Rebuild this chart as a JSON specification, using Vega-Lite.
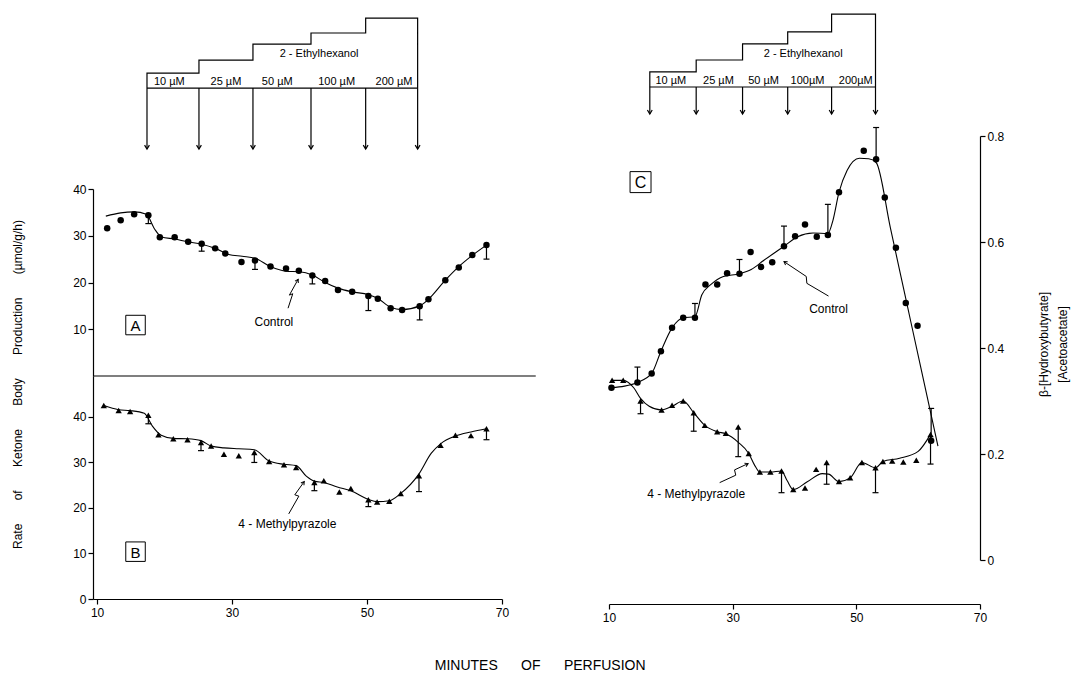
{
  "$schema": "https://vega.github.io/schema/vega-lite/v6.json",
  "background": "white",
  "padding": {"left": 11, "top": 5, "right": 5, "bottom": 5},
  "config": {
    "view": {"stroke": "transparent"},
    "font": "Liberation Sans",
    "axis": {"grid": false, "labelFlush": false, "domainColor": "black", "domainWidth": 1.2, "tickColor": "black", "tickWidth": 1.2, "tickSize": 5, "labelColor": "black", "labelFont": "Liberation Sans", "labelFontSize": 12, "labelPadding": 2, "titleFont": "Liberation Sans", "titleFontSize": 12, "titleFontWeight": "normal", "titleColor": "black"},
    "text": {"font": "Liberation Sans", "fontSize": 12, "color": "black"},
    "title": {"font": "Liberation Sans", "fontSize": 14, "fontWeight": "normal", "color": "black"}
  },
  "title": {"text": "MINUTES\u00a0\u00a0\u00a0\u00a0\u00a0\u00a0OF\u00a0\u00a0\u00a0\u00a0\u00a0\u00a0PERFUSION", "orient": "bottom", "anchor": "middle", "offset": 35},
  "datasets": {
    "stairL": [{"i":0,"x":17.4,"y":0},{"i":1,"x":17.4,"y":1.07},{"i":2,"x":25.1,"y":1.07},{"i":3,"x":25.1,"y":2.0},{"i":4,"x":33.1,"y":2.0},{"i":5,"x":33.1,"y":3.14},{"i":6,"x":41.7,"y":3.14},{"i":7,"x":41.7,"y":3.93},{"i":8,"x":49.8,"y":3.93},{"i":9,"x":49.8,"y":5.0},{"i":10,"x":57.5,"y":5.0},{"i":11,"x":57.5,"y":0}],
    "stairLbase": [{"x":17.4,"x2":57.5,"y":0}],
    "arrowsL": [{"x":17.4,"y":0,"tip":-4.36},{"x":25.1,"y":0,"tip":-4.36},{"x":33.1,"y":0,"tip":-4.36},{"x":41.7,"y":0,"tip":-4.36},{"x":49.8,"y":0,"tip":-4.36},{"x":57.5,"y":0,"tip":-4.36}],
    "stairLlab": [{"x":20.7,"y":0.45,"t":"10 µM"},{"x":29.1,"y":0.45,"t":"25 µM"},{"x":36.7,"y":0.45,"t":"50 µM"},{"x":45.5,"y":0.45,"t":"100 µM"},{"x":54.0,"y":0.45,"t":"200 µM"},{"x":42.9,"y":2.43,"t":"2 - Ethylhexanol"}],
    "stairR": [{"i":0,"x":16.6,"y":0},{"i":1,"x":16.6,"y":1.03},{"i":2,"x":24.1,"y":1.03},{"i":3,"x":24.1,"y":1.85},{"i":4,"x":31.6,"y":1.85},{"i":5,"x":31.6,"y":2.95},{"i":6,"x":38.9,"y":2.95},{"i":7,"x":38.9,"y":3.77},{"i":8,"x":46.0,"y":3.77},{"i":9,"x":46.0,"y":5.0},{"i":10,"x":53.1,"y":5.0},{"i":11,"x":53.1,"y":0}],
    "stairRbase": [{"x":16.6,"x2":53.1,"y":0}],
    "arrowsR": [{"x":16.6,"y":0,"tip":-1.85},{"x":24.1,"y":0,"tip":-1.85},{"x":31.6,"y":0,"tip":-1.85},{"x":38.9,"y":0,"tip":-1.85},{"x":46.0,"y":0,"tip":-1.85},{"x":53.1,"y":0,"tip":-1.85}],
    "stairRlab": [{"x":20.0,"y":0.41,"t":"10 µM"},{"x":27.7,"y":0.41,"t":"25 µM"},{"x":35.0,"y":0.41,"t":"50 µM"},{"x":42.1,"y":0.41,"t":"100µM"},{"x":49.9,"y":0.41,"t":"200µM"},{"x":41.4,"y":2.26,"t":"2 - Ethylhexanol"}],
    "dividerA": [{"x":9.4,"x2":75,"y":0}],
    "a_pts": [{"x":11.5,"y":31.6},{"x":13.5,"y":33.3},{"x":15.5,"y":34.6},{"x":17.6,"y":34.4},{"x":19.3,"y":29.7},{"x":21.5,"y":29.7},{"x":23.5,"y":28.7},{"x":25.5,"y":28.3},{"x":27.5,"y":27.3},{"x":29.0,"y":26.2},{"x":31.4,"y":24.4},{"x":33.4,"y":24.7},{"x":35.7,"y":23.4},{"x":38.0,"y":23.0},{"x":39.9,"y":22.5},{"x":41.9,"y":21.5},{"x":43.8,"y":20.3},{"x":45.7,"y":18.4},{"x":47.8,"y":18.0},{"x":50.2,"y":17.1},{"x":51.6,"y":16.5},{"x":53.5,"y":14.5},{"x":55.2,"y":14.1},{"x":57.8,"y":14.9},{"x":59.1,"y":16.4},{"x":61.6,"y":20.5},{"x":63.6,"y":23.2},{"x":65.6,"y":25.9},{"x":67.7,"y":28.0}],
    "a_fit": [{"x":11.3,"y":34.2},{"x":13.5,"y":34.9},{"x":15.5,"y":35.1},{"x":17.3,"y":34.6},{"x":18.5,"y":31.5},{"x":19.5,"y":29.8},{"x":21.5,"y":29.3},{"x":23.5,"y":28.7},{"x":25.5,"y":28.2},{"x":27.5,"y":27.3},{"x":29.5,"y":26.0},{"x":31.5,"y":25.6},{"x":33.4,"y":25.2},{"x":35.7,"y":23.4},{"x":38.0,"y":22.4},{"x":40.0,"y":22.3},{"x":41.9,"y":21.6},{"x":43.8,"y":20.0},{"x":45.7,"y":18.8},{"x":47.8,"y":18.0},{"x":50.2,"y":17.4},{"x":51.6,"y":16.6},{"x":53.5,"y":14.7},{"x":55.2,"y":14.2},{"x":57.8,"y":15.0},{"x":59.1,"y":16.4},{"x":61.6,"y":20.5},{"x":63.6,"y":23.4},{"x":65.6,"y":25.8},{"x":67.7,"y":28.0}],
    "a_err": [{"x":17.6,"y":34.4,"y2":32.6},{"x":25.5,"y":28.3,"y2":26.7},{"x":33.4,"y":24.7,"y2":22.8},{"x":41.9,"y":21.5,"y2":19.7},{"x":50.2,"y":17.1,"y2":14.0},{"x":57.8,"y":14.9,"y2":12.0},{"x":67.7,"y":28.0,"y2":25.0}],
    "a_lab": [{"x":36.2,"y":11.6,"t":"Control"}],
    "a_box": [{"x":15.7,"y":10.9,"t":"A"}],
    "a_arrow": [{"i":0,"x":38.3,"y":14.5},{"i":1,"x":39.0,"y":17.6},{"i":2,"x":38.5,"y":17.3},{"i":3,"x":39.8,"y":20.7}],
    "a_tip": [{"x":39.8,"y":20.7}],
    "b_pts": [{"x":11.0,"y":42.5},{"x":13.2,"y":41.4},{"x":14.9,"y":41.2},{"x":17.6,"y":40.4},{"x":19.1,"y":36.1},{"x":21.3,"y":35.2},{"x":23.4,"y":35.0},{"x":25.4,"y":34.4},{"x":26.9,"y":33.6},{"x":28.8,"y":31.8},{"x":31.0,"y":31.5},{"x":33.3,"y":32.2},{"x":35.5,"y":30.2},{"x":37.7,"y":29.5},{"x":39.5,"y":28.9},{"x":42.2,"y":25.6},{"x":43.6,"y":26.0},{"x":45.9,"y":23.5},{"x":47.6,"y":24.3},{"x":50.2,"y":21.8},{"x":51.5,"y":21.3},{"x":53.3,"y":21.5},{"x":55.0,"y":23.2},{"x":57.7,"y":27.1},{"x":60.9,"y":33.8},{"x":63.1,"y":36.0},{"x":65.4,"y":35.9},{"x":67.7,"y":37.4}],
    "b_fit": [{"x":11.0,"y":42.5},{"x":13.2,"y":41.6},{"x":14.9,"y":41.4},{"x":17.0,"y":40.8},{"x":18.2,"y":38.0},{"x":19.5,"y":36.0},{"x":21.3,"y":35.3},{"x":23.4,"y":35.2},{"x":25.4,"y":34.8},{"x":26.9,"y":33.6},{"x":28.8,"y":33.2},{"x":31.0,"y":33.0},{"x":33.3,"y":32.8},{"x":35.5,"y":30.3},{"x":37.7,"y":29.6},{"x":39.5,"y":29.3},{"x":41.0,"y":27.0},{"x":42.2,"y":25.9},{"x":43.6,"y":25.6},{"x":45.6,"y":24.6},{"x":47.6,"y":23.8},{"x":50.2,"y":21.9},{"x":51.5,"y":21.4},{"x":53.3,"y":21.6},{"x":55.0,"y":23.2},{"x":57.7,"y":27.5},{"x":59.5,"y":32.0},{"x":60.9,"y":34.1},{"x":63.1,"y":35.8},{"x":65.4,"y":36.7},{"x":67.7,"y":37.4}],
    "b_err": [{"x":17.6,"y":40.4,"y2":38.5},{"x":25.4,"y":34.4,"y2":32.6},{"x":33.3,"y":32.2,"y2":30.0},{"x":42.2,"y":25.6,"y2":23.8},{"x":50.2,"y":21.8,"y2":20.3},{"x":57.7,"y":27.1,"y2":23.6},{"x":67.7,"y":37.4,"y2":35.0}],
    "b_lab": [{"x":38.2,"y":16.5,"t":"4 - Methylpyrazole"}],
    "b_box": [{"x":15.7,"y":10.4,"t":"B"}],
    "b_arrow": [{"i":0,"x":38.4,"y":18.7},{"i":1,"x":39.9,"y":22.6},{"i":2,"x":39.3,"y":22.9},{"i":3,"x":40.7,"y":25.8}],
    "b_tip": [{"x":40.7,"y":25.8}],
    "c_ctrl_pts": [{"x":10.4,"y":0.325},{"x":14.6,"y":0.335},{"x":16.9,"y":0.352},{"x":18.4,"y":0.394},{"x":20.2,"y":0.438},{"x":22.0,"y":0.457},{"x":23.9,"y":0.457},{"x":25.6,"y":0.520},{"x":27.5,"y":0.520},{"x":29.1,"y":0.541},{"x":31.1,"y":0.540},{"x":32.9,"y":0.581},{"x":34.6,"y":0.553},{"x":36.4,"y":0.562},{"x":38.3,"y":0.592},{"x":40.1,"y":0.611},{"x":41.7,"y":0.633},{"x":43.6,"y":0.610},{"x":45.4,"y":0.613},{"x":47.2,"y":0.694},{"x":51.2,"y":0.772},{"x":53.2,"y":0.756},{"x":54.6,"y":0.684},{"x":56.4,"y":0.589},{"x":58.0,"y":0.485},{"x":59.9,"y":0.442},{"x":62.1,"y":0.225}],
    "c_ctrl_fit": [{"x":10.4,"y":0.325},{"x":12.5,"y":0.328},{"x":14.6,"y":0.335},{"x":16.9,"y":0.352},{"x":18.4,"y":0.394},{"x":20.2,"y":0.438},{"x":22.0,"y":0.457},{"x":23.9,"y":0.459},{"x":25.0,"y":0.500},{"x":26.5,"y":0.520},{"x":28.5,"y":0.535},{"x":31.1,"y":0.540},{"x":33.0,"y":0.548},{"x":35.0,"y":0.565},{"x":38.3,"y":0.592},{"x":40.5,"y":0.610},{"x":43.0,"y":0.617},{"x":45.4,"y":0.616},{"x":46.2,"y":0.640},{"x":47.2,"y":0.694},{"x":48.5,"y":0.735},{"x":50.5,"y":0.758},{"x":52.0,"y":0.757},{"x":53.2,"y":0.750},{"x":55.5,"y":0.627},{"x":58.0,"y":0.493},{"x":60.5,"y":0.359},{"x":63.2,"y":0.215}],
    "c_ctrl_err": [{"x":14.6,"y":0.335,"y2":0.364},{"x":23.9,"y":0.457,"y2":0.484},{"x":31.1,"y":0.540,"y2":0.567},{"x":38.3,"y":0.592,"y2":0.630},{"x":45.4,"y":0.613,"y2":0.671},{"x":53.2,"y":0.756,"y2":0.816},{"x":62.1,"y":0.225,"y2":0.286}],
    "c_mp_pts": [{"x":10.5,"y":0.339},{"x":12.3,"y":0.339},{"x":15.1,"y":0.300},{"x":18.5,"y":0.283},{"x":20.2,"y":0.292},{"x":22.0,"y":0.300},{"x":23.7,"y":0.278},{"x":25.5,"y":0.254},{"x":27.5,"y":0.242},{"x":28.9,"y":0.239},{"x":30.9,"y":0.251},{"x":32.6,"y":0.201},{"x":34.4,"y":0.166},{"x":36.1,"y":0.166},{"x":37.9,"y":0.168},{"x":39.8,"y":0.133},{"x":41.7,"y":0.136},{"x":43.5,"y":0.171},{"x":45.2,"y":0.184},{"x":47.2,"y":0.148},{"x":49.0,"y":0.155},{"x":50.9,"y":0.184},{"x":53.1,"y":0.174},{"x":54.3,"y":0.186},{"x":55.8,"y":0.187},{"x":57.6,"y":0.185},{"x":59.7,"y":0.188},{"x":62.0,"y":0.237}],
    "c_mp_fit": [{"x":10.5,"y":0.339},{"x":12.3,"y":0.339},{"x":14.0,"y":0.325},{"x":15.1,"y":0.305},{"x":16.5,"y":0.290},{"x":18.5,"y":0.283},{"x":20.2,"y":0.290},{"x":22.0,"y":0.300},{"x":23.7,"y":0.278},{"x":25.5,"y":0.254},{"x":27.5,"y":0.242},{"x":28.9,"y":0.238},{"x":30.9,"y":0.222},{"x":32.6,"y":0.201},{"x":33.5,"y":0.180},{"x":34.4,"y":0.166},{"x":36.1,"y":0.166},{"x":37.9,"y":0.168},{"x":38.8,"y":0.150},{"x":39.8,"y":0.133},{"x":42.0,"y":0.147},{"x":44.5,"y":0.163},{"x":45.5,"y":0.162},{"x":47.2,"y":0.148},{"x":49.0,"y":0.155},{"x":50.9,"y":0.184},{"x":53.1,"y":0.174},{"x":54.3,"y":0.186},{"x":57.0,"y":0.192},{"x":60.0,"y":0.205},{"x":62.0,"y":0.237}],
    "c_mp_err": [{"x":15.1,"y":0.300,"y2":0.276},{"x":23.7,"y":0.278,"y2":0.243},{"x":30.9,"y":0.251,"y2":0.195},{"x":37.9,"y":0.168,"y2":0.127},{"x":45.2,"y":0.184,"y2":0.143},{"x":53.1,"y":0.174,"y2":0.127},{"x":62.0,"y":0.237,"y2":0.181}],
    "c_lab": [{"x":45.5,"y":0.474,"t":"Control"},{"x":24.1,"y":0.125,"t":"4 - Methylpyrazole"}],
    "c_box": [{"x":15.1,"y":0.713,"t":"C"}],
    "c_arrow1": [{"i":0,"x":45.5,"y":0.498},{"i":1,"x":42.0,"y":0.522},{"i":2,"x":41.9,"y":0.535},{"i":3,"x":38.3,"y":0.563}],
    "c_tip1": [{"x":38.3,"y":0.563}],
    "c_arrow2": [{"i":0,"x":27.9,"y":0.146},{"i":1,"x":30.5,"y":0.160},{"i":2,"x":30.3,"y":0.170},{"x":32.5,"y":0.182,"i":3}],
    "c_tip2": [{"x":32.5,"y":0.182}]
  },
  "spacing": 64,
  "hconcat": [
    {
      "spacing": 0,
      "bounds": "flush",
      "vconcat": [
        {
          "width": 409, "height": 183,
          "layer": [
            {"data": {"name": "stairL"}, "mark": {"type": "line", "color": "black", "strokeWidth": 1.2},
             "encoding": {"x": {"field": "x", "type": "quantitative", "scale": {"domain": [9.4, 70], "nice": false}, "axis": null},
                          "y": {"field": "y", "type": "quantitative", "scale": {"domain": [-7.21, 5.86], "nice": false}, "axis": null},
                          "order": {"field": "i"}}},
            {"data": {"name": "stairLbase"}, "mark": {"type": "rule", "color": "black", "strokeWidth": 1.2},
             "encoding": {"x": {"field": "x", "type": "quantitative", "axis": null}, "x2": {"field": "x2"}, "y": {"field": "y", "type": "quantitative", "axis": null}}},
            {"data": {"name": "arrowsL"}, "mark": {"type": "rule", "color": "black", "strokeWidth": 1.2},
             "encoding": {"x": {"field": "x", "type": "quantitative", "axis": null}, "y": {"field": "y", "type": "quantitative", "axis": null}, "y2": {"field": "tip"}}},
            {"data": {"name": "arrowsL"}, "mark": {"type": "point", "shape": "M-0.6,-1L0,0L0.6,-1", "filled": false, "stroke": "black", "strokeWidth": 1.2, "size": 64, "opacity": 1},
             "encoding": {"x": {"field": "x", "type": "quantitative", "axis": null}, "y": {"field": "tip", "type": "quantitative", "axis": null}}},
            {"data": {"name": "stairLlab"}, "mark": {"type": "text", "fontSize": 11, "baseline": "middle"},
             "encoding": {"x": {"field": "x", "type": "quantitative", "axis": null}, "y": {"field": "y", "type": "quantitative", "axis": null}, "text": {"field": "t"}}}
          ]
        },
        {
          "width": 409, "height": 187,
          "layer": [
            {"data": {"name": "a_fit"}, "mark": {"type": "line", "interpolate": "monotone", "color": "black", "strokeWidth": 1.1},
             "encoding": {"x": {"field": "x", "type": "quantitative", "scale": {"domain": [9.4, 70], "nice": false}, "axis": null},
                          "y": {"field": "y", "type": "quantitative", "scale": {"domain": [0, 40], "nice": false},
                                "axis": {"values": [10, 20, 30, 40], "title": "Rate\u00a0\u00a0\u00a0\u00a0\u00a0\u00a0\u00a0of\u00a0\u00a0\u00a0\u00a0\u00a0\u00a0\u00a0Ketone\u00a0\u00a0\u00a0\u00a0\u00a0\u00a0\u00a0Body\u00a0\u00a0\u00a0\u00a0\u00a0\u00a0\u00a0Production\u00a0\u00a0\u00a0\u00a0\u00a0\u00a0\u00a0(µmol/g/h)", "titleY": 195, "titlePadding": 48}}}},
            {"data": {"name": "dividerA"}, "mark": {"type": "rule", "color": "black", "strokeWidth": 1.2},
             "encoding": {"x": {"field": "x", "type": "quantitative", "axis": null}, "x2": {"field": "x2"}, "y": {"field": "y", "type": "quantitative"}}},
            {"data": {"name": "a_err"}, "mark": {"type": "rule", "color": "black", "strokeWidth": 1.2},
             "encoding": {"x": {"field": "x", "type": "quantitative", "axis": null}, "y": {"field": "y", "type": "quantitative"}, "y2": {"field": "y2"}}},
            {"data": {"name": "a_err"}, "mark": {"type": "point", "shape": "M-1,0L1,0", "filled": false, "stroke": "black", "strokeWidth": 1.2, "size": 36, "opacity": 1},
             "encoding": {"x": {"field": "x", "type": "quantitative", "axis": null}, "y": {"field": "y2", "type": "quantitative"}}},
            {"data": {"name": "a_pts"}, "mark": {"type": "point", "shape": "circle", "filled": true, "color": "black", "size": 42, "opacity": 1},
             "encoding": {"x": {"field": "x", "type": "quantitative", "axis": null}, "y": {"field": "y", "type": "quantitative"}}},
            {"data": {"name": "a_lab"}, "mark": {"type": "text", "fontSize": 12, "baseline": "middle"},
             "encoding": {"x": {"field": "x", "type": "quantitative", "axis": null}, "y": {"field": "y", "type": "quantitative"}, "text": {"field": "t"}}},
            {"data": {"name": "a_arrow"}, "mark": {"type": "line", "color": "black", "strokeWidth": 1},
             "encoding": {"x": {"field": "x", "type": "quantitative", "axis": null}, "y": {"field": "y", "type": "quantitative"}, "order": {"field": "i"}}},
            {"data": {"name": "a_tip"}, "mark": {"type": "point", "shape": "M-0.6,1L0,0L0.6,1", "filled": false, "stroke": "black", "strokeWidth": 1, "size": 40, "opacity": 1, "angle": 29},
             "encoding": {"x": {"field": "x", "type": "quantitative", "axis": null}, "y": {"field": "y", "type": "quantitative"}}},
            {"data": {"name": "a_box"}, "mark": {"type": "point", "shape": "square", "filled": false, "stroke": "black", "strokeWidth": 1, "size": 380, "opacity": 1},
             "encoding": {"x": {"field": "x", "type": "quantitative", "axis": null}, "y": {"field": "y", "type": "quantitative"}}},
            {"data": {"name": "a_box"}, "mark": {"type": "text", "fontSize": 15, "baseline": "middle", "dy": 1},
             "encoding": {"x": {"field": "x", "type": "quantitative", "axis": null}, "y": {"field": "y", "type": "quantitative"}, "text": {"field": "t"}}}
          ]
        },
        {
          "width": 409, "height": 223,
          "layer": [
            {"data": {"name": "b_fit"}, "mark": {"type": "line", "interpolate": "monotone", "color": "black", "strokeWidth": 1.1},
             "encoding": {"x": {"field": "x", "type": "quantitative", "scale": {"domain": [9.4, 70], "nice": false}, "axis": {"values": [10, 30, 50, 70], "title": null, "labelPadding": 3}},
                          "y": {"field": "y", "type": "quantitative", "scale": {"domain": [0, 49], "nice": false}, "axis": {"values": [0, 10, 20, 30, 40], "title": null}}}},
            {"data": {"name": "b_err"}, "mark": {"type": "rule", "color": "black", "strokeWidth": 1.2},
             "encoding": {"x": {"field": "x", "type": "quantitative"}, "y": {"field": "y", "type": "quantitative"}, "y2": {"field": "y2"}}},
            {"data": {"name": "b_err"}, "mark": {"type": "point", "shape": "M-1,0L1,0", "filled": false, "stroke": "black", "strokeWidth": 1.2, "size": 36, "opacity": 1},
             "encoding": {"x": {"field": "x", "type": "quantitative"}, "y": {"field": "y2", "type": "quantitative"}}},
            {"data": {"name": "b_pts"}, "mark": {"type": "point", "shape": "triangle-up", "filled": true, "color": "black", "size": 40, "opacity": 1},
             "encoding": {"x": {"field": "x", "type": "quantitative"}, "y": {"field": "y", "type": "quantitative"}}},
            {"data": {"name": "b_lab"}, "mark": {"type": "text", "fontSize": 12, "baseline": "middle"},
             "encoding": {"x": {"field": "x", "type": "quantitative"}, "y": {"field": "y", "type": "quantitative"}, "text": {"field": "t"}}},
            {"data": {"name": "b_arrow"}, "mark": {"type": "line", "color": "black", "strokeWidth": 1},
             "encoding": {"x": {"field": "x", "type": "quantitative"}, "y": {"field": "y", "type": "quantitative"}, "order": {"field": "i"}}},
            {"data": {"name": "b_tip"}, "mark": {"type": "point", "shape": "M-0.6,1L0,0L0.6,1", "filled": false, "stroke": "black", "strokeWidth": 1, "size": 40, "opacity": 1, "angle": 36},
             "encoding": {"x": {"field": "x", "type": "quantitative"}, "y": {"field": "y", "type": "quantitative"}}},
            {"data": {"name": "b_box"}, "mark": {"type": "point", "shape": "square", "filled": false, "stroke": "black", "strokeWidth": 1, "size": 380, "opacity": 1},
             "encoding": {"x": {"field": "x", "type": "quantitative"}, "y": {"field": "y", "type": "quantitative"}}},
            {"data": {"name": "b_box"}, "mark": {"type": "text", "fontSize": 15, "baseline": "middle", "dy": 1},
             "encoding": {"x": {"field": "x", "type": "quantitative"}, "y": {"field": "y", "type": "quantitative"}, "text": {"field": "t"}}}
          ]
        }
      ]
    },
    {
      "spacing": 0,
      "bounds": "flush",
      "vconcat": [
        {
          "width": 371, "height": 130,
          "layer": [
            {"data": {"name": "stairR"}, "mark": {"type": "line", "color": "black", "strokeWidth": 1.2},
             "encoding": {"x": {"field": "x", "type": "quantitative", "scale": {"domain": [10, 70], "nice": false}, "axis": null},
                          "y": {"field": "y", "type": "quantitative", "scale": {"domain": [-3.36, 5.55], "nice": false}, "axis": null},
                          "order": {"field": "i"}}},
            {"data": {"name": "stairRbase"}, "mark": {"type": "rule", "color": "black", "strokeWidth": 1.2},
             "encoding": {"x": {"field": "x", "type": "quantitative", "axis": null}, "x2": {"field": "x2"}, "y": {"field": "y", "type": "quantitative", "axis": null}}},
            {"data": {"name": "arrowsR"}, "mark": {"type": "rule", "color": "black", "strokeWidth": 1.2},
             "encoding": {"x": {"field": "x", "type": "quantitative", "axis": null}, "y": {"field": "y", "type": "quantitative", "axis": null}, "y2": {"field": "tip"}}},
            {"data": {"name": "arrowsR"}, "mark": {"type": "point", "shape": "M-0.6,-1L0,0L0.6,-1", "filled": false, "stroke": "black", "strokeWidth": 1.2, "size": 64, "opacity": 1},
             "encoding": {"x": {"field": "x", "type": "quantitative", "axis": null}, "y": {"field": "tip", "type": "quantitative", "axis": null}}},
            {"data": {"name": "stairRlab"}, "mark": {"type": "text", "fontSize": 11, "baseline": "middle"},
             "encoding": {"x": {"field": "x", "type": "quantitative", "axis": null}, "y": {"field": "y", "type": "quantitative", "axis": null}, "text": {"field": "t"}}}
          ]
        },
        {
          "width": 371, "height": 424,
          "layer": [
            {"data": {"name": "c_ctrl_fit"}, "mark": {"type": "line", "interpolate": "monotone", "color": "black", "strokeWidth": 1.1},
             "encoding": {"x": {"field": "x", "type": "quantitative", "scale": {"domain": [10, 70], "nice": false}, "axis": {"values": [10, 30, 50, 70], "title": null, "offset": 44, "labelPadding": 3}},
                          "y": {"field": "y", "type": "quantitative", "scale": {"domain": [0, 0.8], "nice": false},
                                "axis": {"orient": "right", "values": [0, 0.2, 0.4, 0.6, 0.8], "format": ".1~f", "title": ["β-[Hydroxybutyrate]", "[Acetoacetate]"], "titleAngle": 270, "titleBaseline": "top", "titlePadding": 16, "titleY": 208, "titleLineHeight": 19}}}},
            {"data": {"name": "c_mp_fit"}, "mark": {"type": "line", "interpolate": "monotone", "color": "black", "strokeWidth": 1.1},
             "encoding": {"x": {"field": "x", "type": "quantitative"}, "y": {"field": "y", "type": "quantitative"}}},
            {"data": {"name": "c_ctrl_err"}, "mark": {"type": "rule", "color": "black", "strokeWidth": 1.2},
             "encoding": {"x": {"field": "x", "type": "quantitative"}, "y": {"field": "y", "type": "quantitative"}, "y2": {"field": "y2"}}},
            {"data": {"name": "c_ctrl_err"}, "mark": {"type": "point", "shape": "M-1,0L1,0", "filled": false, "stroke": "black", "strokeWidth": 1.2, "size": 36, "opacity": 1},
             "encoding": {"x": {"field": "x", "type": "quantitative"}, "y": {"field": "y2", "type": "quantitative"}}},
            {"data": {"name": "c_mp_err"}, "mark": {"type": "rule", "color": "black", "strokeWidth": 1.2},
             "encoding": {"x": {"field": "x", "type": "quantitative"}, "y": {"field": "y", "type": "quantitative"}, "y2": {"field": "y2"}}},
            {"data": {"name": "c_mp_err"}, "mark": {"type": "point", "shape": "M-1,0L1,0", "filled": false, "stroke": "black", "strokeWidth": 1.2, "size": 36, "opacity": 1},
             "encoding": {"x": {"field": "x", "type": "quantitative"}, "y": {"field": "y2", "type": "quantitative"}}},
            {"data": {"name": "c_ctrl_pts"}, "mark": {"type": "point", "shape": "circle", "filled": true, "color": "black", "size": 42, "opacity": 1},
             "encoding": {"x": {"field": "x", "type": "quantitative"}, "y": {"field": "y", "type": "quantitative"}}},
            {"data": {"name": "c_mp_pts"}, "mark": {"type": "point", "shape": "triangle-up", "filled": true, "color": "black", "size": 40, "opacity": 1},
             "encoding": {"x": {"field": "x", "type": "quantitative"}, "y": {"field": "y", "type": "quantitative"}}},
            {"data": {"name": "c_lab"}, "mark": {"type": "text", "fontSize": 12, "baseline": "middle"},
             "encoding": {"x": {"field": "x", "type": "quantitative"}, "y": {"field": "y", "type": "quantitative"}, "text": {"field": "t"}}},
            {"data": {"name": "c_arrow1"}, "mark": {"type": "line", "color": "black", "strokeWidth": 1},
             "encoding": {"x": {"field": "x", "type": "quantitative"}, "y": {"field": "y", "type": "quantitative"}, "order": {"field": "i"}}},
            {"data": {"name": "c_tip1"}, "mark": {"type": "point", "shape": "M-0.6,1L0,0L0.6,1", "filled": false, "stroke": "black", "strokeWidth": 1, "size": 40, "opacity": 1, "angle": -56},
             "encoding": {"x": {"field": "x", "type": "quantitative"}, "y": {"field": "y", "type": "quantitative"}}},
            {"data": {"name": "c_arrow2"}, "mark": {"type": "line", "color": "black", "strokeWidth": 1},
             "encoding": {"x": {"field": "x", "type": "quantitative"}, "y": {"field": "y", "type": "quantitative"}, "order": {"field": "i"}}},
            {"data": {"name": "c_tip2"}, "mark": {"type": "point", "shape": "M-0.6,1L0,0L0.6,1", "filled": false, "stroke": "black", "strokeWidth": 1, "size": 40, "opacity": 1, "angle": 65},
             "encoding": {"x": {"field": "x", "type": "quantitative"}, "y": {"field": "y", "type": "quantitative"}}},
            {"data": {"name": "c_box"}, "mark": {"type": "point", "shape": "square", "filled": false, "stroke": "black", "strokeWidth": 1, "size": 440, "opacity": 1},
             "encoding": {"x": {"field": "x", "type": "quantitative"}, "y": {"field": "y", "type": "quantitative"}}},
            {"data": {"name": "c_box"}, "mark": {"type": "text", "fontSize": 16, "baseline": "middle", "dy": 1},
             "encoding": {"x": {"field": "x", "type": "quantitative"}, "y": {"field": "y", "type": "quantitative"}, "text": {"field": "t"}}}
          ]
        }
      ]
    }
  ]
}
